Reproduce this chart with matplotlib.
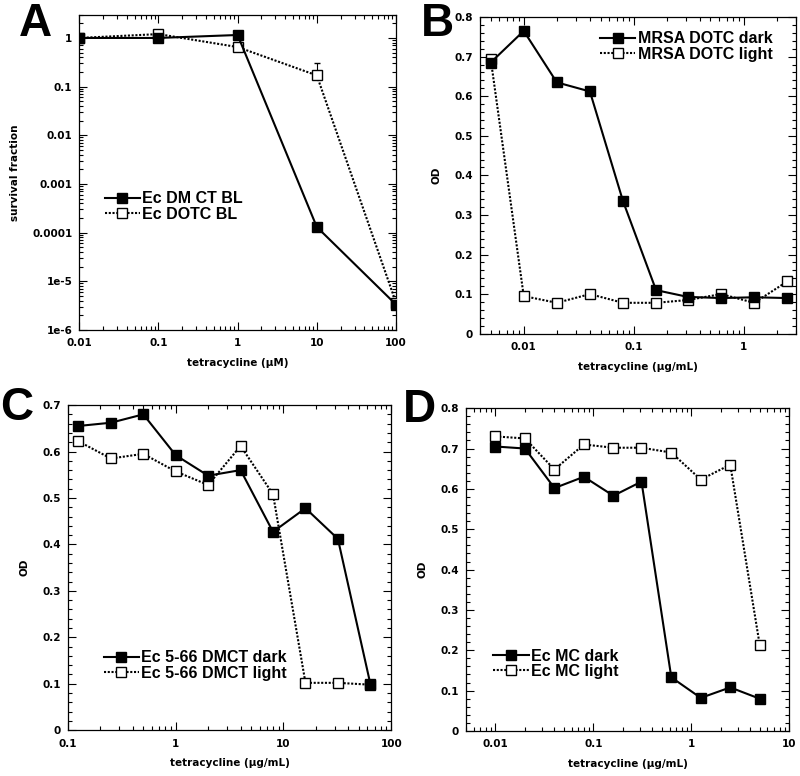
import matplotlib
matplotlib.use("Agg")
import matplotlib.pyplot as plt
from matplotlib.ticker import LogLocator, MultipleLocator, FixedLocator, NullFormatter, FixedFormatter, FuncFormatter

plt.rcParams['font.family'] = ['DejaVu Sans']
plt.rcParams['font.weight'] = 'bold'

# Panel A
a_x = [0.01, 0.1, 1, 10, 100]
a_dark = [1.0, 1.0, 1.15, 1.3e-4, 3.3e-6]
a_light = [1.0, 1.2, 0.65, 0.17, 3.6e-6]
a_light_err = [0.0, 0.12, 0.0, 0.14, 0.0]
a_yticks = [1e-6, 1e-5, 1e-4, 1e-3, 1e-2, 0.1, 1]
a_ylabels = ['1e-6', '1e-5', '0.0001', '0.001', '0.01', '0.1', '1']
a_xticks = [0.01, 0.1, 1, 10, 100]
a_xlabels = ['0.01', '0.1', '1', '10', '100']

# Panel B
b_x = [0.005, 0.01, 0.02, 0.04, 0.08, 0.16, 0.31, 0.625, 1.25, 2.5]
b_dark = [0.685, 0.765, 0.635, 0.612, 0.335, 0.11, 0.093, 0.09, 0.092, 0.09]
b_light = [0.695, 0.095, 0.078, 0.1, 0.078, 0.078, 0.085, 0.1, 0.078, 0.132]
b_xticks = [0.01, 0.1, 1]
b_xlabels = ['0.01', '0.1', '1']

# Panel C
c_x = [0.125, 0.25, 0.5, 1, 2, 4, 8, 16, 32, 64]
c_dark = [0.655, 0.662, 0.68, 0.592, 0.548, 0.56, 0.427, 0.478, 0.412, 0.1]
c_light = [0.622, 0.585, 0.595, 0.557, 0.528, 0.612, 0.508, 0.102, 0.102, 0.098]
c_xticks = [0.1, 1, 10, 100]
c_xlabels = ['0.1', '1', '10', '100']

# Panel D
d_x = [0.01, 0.02, 0.04, 0.08, 0.16, 0.31, 0.625, 1.25, 2.5, 5]
d_dark = [0.705, 0.7, 0.602, 0.63, 0.583, 0.618, 0.133, 0.082, 0.108, 0.08]
d_light = [0.73, 0.725, 0.648, 0.71, 0.702, 0.702, 0.69, 0.623, 0.66, 0.213]
d_xticks = [0.01, 0.1, 1, 10]
d_xlabels = ['0.01', '0.1', '1', '10']

fig = plt.figure(figsize=(8, 7.76), dpi=100)

TICKFS = 7.5
LABFS = 7.5
LEGFS = 11.5
LEGFAM = ['Liberation Sans', 'DejaVu Sans']
MS = 6.5
LW = 1.5
DOT = (0, (1, 0.8))


def style(ax):
    ax.tick_params(which='both', direction='in', top=True, right=True,
                   labelsize=TICKFS, width=0.8)
    ax.tick_params(which='major', length=5.5)
    ax.tick_params(which='minor', length=2.8)
    ax.tick_params(axis='x', which='major', pad=6)
    ax.tick_params(axis='y', which='major', pad=5)
    for s in ax.spines.values():
        s.set_linewidth(0.9)
    for lab in ax.get_xticklabels() + ax.get_yticklabels():
        lab.set_fontweight('bold')


def labels(ax, xl, yl):
    ax.set_xlabel(xl, fontsize=LABFS, fontweight='bold', labelpad=7)
    ax.set_ylabel(yl, fontsize=LABFS, fontweight='bold', labelpad=9)


def xlog(ax, ticks, labs, lo, hi):
    ax.set_xscale('log')
    ax.set_xlim(lo, hi)
    ax.xaxis.set_major_locator(FixedLocator(ticks))
    ax.xaxis.set_major_formatter(FixedFormatter(labs))
    ax.xaxis.set_minor_locator(LogLocator(base=10, subs=range(2, 10), numticks=20))
    ax.xaxis.set_minor_formatter(NullFormatter())


def ylin(ax, top, step):
    ax.set_ylim(0, top)
    ax.yaxis.set_major_locator(MultipleLocator(step))
    ax.yaxis.set_minor_locator(MultipleLocator(step / 5))
    ax.yaxis.set_major_formatter(FuncFormatter(
        lambda v, p: '0' if abs(v) < 1e-9 else ('%g' % round(v, 3))))


def plot_pair(ax, x, dark, light, dl, ll):
    hl, = ax.plot(x, light, linestyle=DOT, color='black', lw=LW, marker='s', ms=MS,
                  mfc='white', mec='black', mew=1.0, zorder=3)
    hd, = ax.plot(x, dark, linestyle='-', color='black', lw=LW, marker='s', ms=MS,
                  mfc='black', mec='black', zorder=4)
    return [hd, hl], [dl, ll]


def legend(ax, h, l, anchor):
    ax.legend(h, l, loc='upper left', bbox_to_anchor=anchor, frameon=False,
              prop={'size': LEGFS, 'weight': 'bold', 'family': LEGFAM},
              handlelength=2.2, handletextpad=0.15, labelspacing=0.02,
              borderpad=0.2, borderaxespad=0.0)


# ---- Panel A ----
axA = fig.add_axes([0.099, 0.575, 0.396, 0.406])
eb = axA.errorbar(a_x, a_light, yerr=[[0] * len(a_x), a_light_err], linestyle=DOT,
                  color='black', lw=LW, marker='s', ms=MS, mfc='white', mec='black',
                  mew=1.0, capsize=2.5, elinewidth=0.8, zorder=3)
hdA, = axA.plot(a_x, a_dark, linestyle='-', color='black', lw=LW, marker='s', ms=MS,
                mfc='black', mec='black', zorder=4)
xlog(axA, a_xticks, a_xlabels, 0.01, 100)
axA.set_yscale('log')
axA.set_ylim(1e-6, 3)
axA.yaxis.set_major_locator(FixedLocator(a_yticks))
axA.yaxis.set_major_formatter(FixedFormatter(a_ylabels))
axA.yaxis.set_minor_locator(LogLocator(base=10, subs=range(2, 10), numticks=20))
axA.yaxis.set_minor_formatter(NullFormatter())
labels(axA, 'tetracycline (μM)', 'survival fraction')
legend(axA, [hdA, eb.lines[0]], ['Ec DM CT BL', 'Ec DOTC BL'], (0.07, 0.45))
style(axA)

# ---- Panel B ----
axB = fig.add_axes([0.600, 0.570, 0.395, 0.408])
h, l = plot_pair(axB, b_x, b_dark, b_light, 'MRSA DOTC dark', 'MRSA DOTC light')
xlog(axB, b_xticks, b_xlabels, 0.004, 3.0)
ylin(axB, 0.8, 0.1)
labels(axB, 'tetracycline (μg/mL)', 'OD')
legend(axB, h, l, (0.37, 0.965))
style(axB)

# ---- Panel C ----
axC = fig.add_axes([0.085, 0.059, 0.404, 0.419])
h, l = plot_pair(axC, c_x, c_dark, c_light, 'Ec 5-66 DMCT dark', 'Ec 5-66 DMCT light')
xlog(axC, c_xticks, c_xlabels, 0.1, 100)
ylin(axC, 0.7, 0.1)
labels(axC, 'tetracycline (μg/mL)', 'OD')
legend(axC, h, l, (0.10, 0.255))
style(axC)

# ---- Panel D ----
axD = fig.add_axes([0.5825, 0.058, 0.404, 0.416])
h, l = plot_pair(axD, d_x, d_dark, d_light, 'Ec MC dark', 'Ec MC light')
xlog(axD, d_xticks, d_xlabels, 0.005, 10)
ylin(axD, 0.8, 0.1)
labels(axD, 'tetracycline (μg/mL)', 'OD')
legend(axD, h, l, (0.075, 0.265))
style(axD)

# panel letters
for txt, x, y in [('A', 0.024, 0.997), ('B', 0.526, 0.997), ('C', 0.0, 0.502), ('D', 0.504, 0.500)]:
    fig.text(x, y, txt, fontsize=33, fontweight='bold', va='top', ha='left',
             family=LEGFAM)

fig.savefig('out.png', dpi=100)
